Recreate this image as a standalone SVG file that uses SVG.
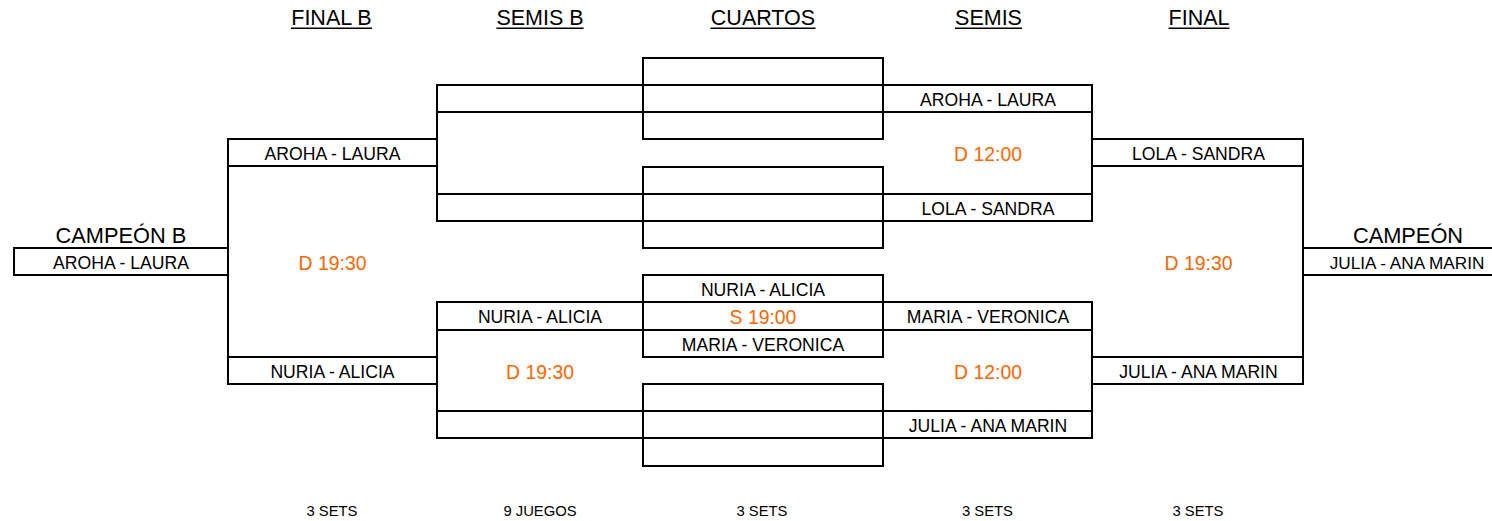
<svg xmlns="http://www.w3.org/2000/svg" width="1492" height="521" viewBox="0 0 1492 521">
<style>
  .cell { fill: none; stroke: #000; stroke-width: 2; }
  .conn { stroke: #000; stroke-width: 2; fill: none; }
  .ul { stroke: #000; stroke-width: 1.6; }
  text { font-family: "Liberation Sans", Arial, sans-serif; text-anchor: middle; fill: #000; }
  .hd { font-size: 21.5px; }
  .ch { font-size: 21.8px; }
  .t { font-size: 17.6px; }
  .tm { font-size: 19.4px; fill: #FF6600; }
  .ft { font-size: 14.8px; }
</style>
<rect width="1492" height="521" fill="#fff"/>

<g id="headers">
  <text class="hd" x="331.5" y="25">FINAL B</text>
  <line class="ul" x1="290.9" y1="28.3" x2="372.1" y2="28.3"/>
  <text class="hd" x="540" y="25">SEMIS B</text>
  <line class="ul" x1="496.4" y1="28.3" x2="583.6" y2="28.3"/>
  <text class="hd" x="763" y="25">CUARTOS</text>
  <line class="ul" x1="710.5" y1="28.3" x2="815.5" y2="28.3"/>
  <text class="hd" x="988.5" y="25">SEMIS</text>
  <line class="ul" x1="955" y1="28.3" x2="1022" y2="28.3"/>
  <text class="hd" x="1199" y="25">FINAL</text>
  <line class="ul" x1="1168.5" y1="28.3" x2="1229.5" y2="28.3"/>
</g>

<g id="connectors">
  <line class="conn" x1="228" y1="139" x2="228" y2="384"/>
  <line class="conn" x1="437" y1="85" x2="437" y2="221"/>
  <line class="conn" x1="437" y1="302" x2="437" y2="438"/>
  <line class="conn" x1="1092" y1="85" x2="1092" y2="221"/>
  <line class="conn" x1="1092" y1="302" x2="1092" y2="438"/>
  <line class="conn" x1="1303" y1="139" x2="1303" y2="384"/>
</g>

<g id="campeon-b">
  <text class="ch" x="121" y="243">CAMPEÓN B</text>
  <rect class="cell" x="14" y="248" width="214" height="27"/>
  <text class="t" x="121" y="269">AROHA - LAURA</text>
</g>

<g id="final-b-1">
  <rect class="cell" x="228" y="139" width="209" height="27"/>
  <text class="t" x="332.5" y="160">AROHA - LAURA</text>
</g>
<g id="final-b-2">
  <rect class="cell" x="228" y="357" width="209" height="27"/>
  <text class="t" x="332.5" y="378">NURIA - ALICIA</text>
</g>
<g id="final-b-time">
  <text class="tm" x="332.5" y="269.5">D 19:30</text>
</g>

<g id="semis-b-1">
  <rect class="cell" x="437" y="85" width="206" height="27"/>
</g>
<g id="semis-b-2">
  <rect class="cell" x="437" y="194" width="206" height="27"/>
</g>
<g id="semis-b-3">
  <rect class="cell" x="437" y="302" width="206" height="28"/>
  <text class="t" x="540" y="323">NURIA - ALICIA</text>
</g>
<g id="semis-b-4">
  <rect class="cell" x="437" y="411" width="206" height="27"/>
</g>
<g id="semis-b-time">
  <text class="tm" x="540" y="378.5">D 19:30</text>
</g>

<g id="cuartos-1">
  <rect class="cell" x="643" y="58" width="240" height="27"/>
  <rect class="cell" x="643" y="85" width="240" height="27"/>
  <rect class="cell" x="643" y="112" width="240" height="27"/>
</g>
<g id="cuartos-2">
  <rect class="cell" x="643" y="167" width="240" height="27"/>
  <rect class="cell" x="643" y="194" width="240" height="27"/>
  <rect class="cell" x="643" y="221" width="240" height="27"/>
</g>
<g id="cuartos-3">
  <rect class="cell" x="643" y="275" width="240" height="27"/>
  <rect class="cell" x="643" y="302" width="240" height="28"/>
  <rect class="cell" x="643" y="330" width="240" height="27"/>
  <text class="t" x="763" y="296">NURIA - ALICIA</text>
  <text class="tm" x="763" y="324">S 19:00</text>
  <text class="t" x="763" y="351">MARIA - VERONICA</text>
</g>
<g id="cuartos-4">
  <rect class="cell" x="643" y="384" width="240" height="27"/>
  <rect class="cell" x="643" y="411" width="240" height="27"/>
  <rect class="cell" x="643" y="438" width="240" height="28"/>
</g>

<g id="semis-1">
  <rect class="cell" x="883" y="85" width="209" height="27"/>
  <text class="t" x="988" y="106">AROHA - LAURA</text>
</g>
<g id="semis-2">
  <rect class="cell" x="883" y="194" width="209" height="27"/>
  <text class="t" x="988" y="215">LOLA - SANDRA</text>
</g>
<g id="semis-time-1">
  <text class="tm" x="988" y="160.5">D 12:00</text>
</g>
<g id="semis-3">
  <rect class="cell" x="883" y="302" width="209" height="28"/>
  <text class="t" x="988" y="323">MARIA - VERONICA</text>
</g>
<g id="semis-4">
  <rect class="cell" x="883" y="411" width="209" height="27"/>
  <text class="t" x="988" y="432">JULIA - ANA MARIN</text>
</g>
<g id="semis-time-2">
  <text class="tm" x="988" y="378.5">D 12:00</text>
</g>

<g id="final-1">
  <rect class="cell" x="1092" y="139" width="211" height="27"/>
  <text class="t" x="1198.5" y="160">LOLA - SANDRA</text>
</g>
<g id="final-2">
  <rect class="cell" x="1092" y="357" width="211" height="27"/>
  <text class="t" x="1198.5" y="378">JULIA - ANA MARIN</text>
</g>
<g id="final-time">
  <text class="tm" x="1198.5" y="269.5">D 19:30</text>
</g>

<g id="campeon">
  <text class="ch" x="1408" y="243">CAMPEÓN</text>
  <rect class="cell" x="1303" y="248" width="200" height="27"/>
  <text class="t" x="1407" y="269" style="font-size:17.2px">JULIA - ANA MARIN</text>
</g>

<g id="footer">
  <text class="ft" x="332" y="515.5">3 SETS</text>
  <text class="ft" x="540" y="515.5">9 JUEGOS</text>
  <text class="ft" x="762" y="515.5">3 SETS</text>
  <text class="ft" x="987.5" y="515.5">3 SETS</text>
  <text class="ft" x="1198" y="515.5">3 SETS</text>
</g>
</svg>
